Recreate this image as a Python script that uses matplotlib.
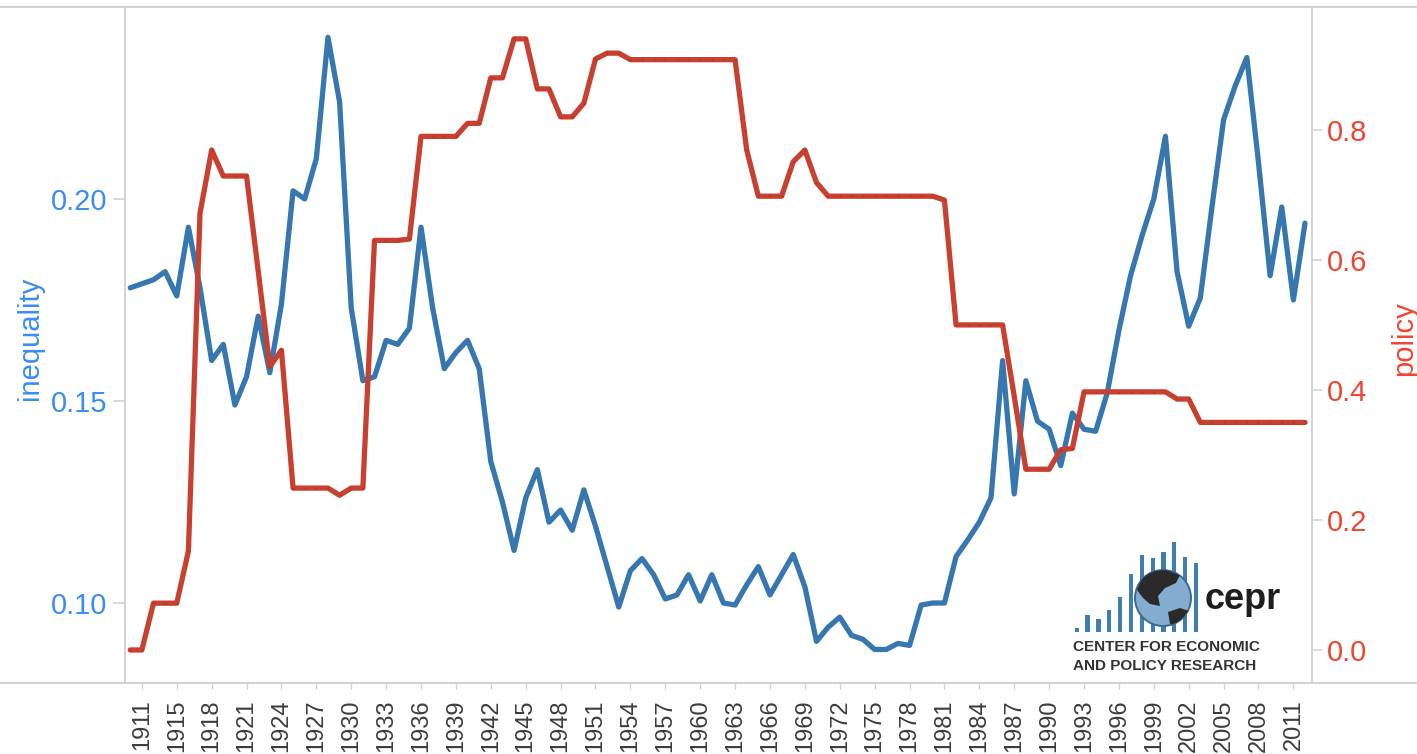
import numpy as np
import matplotlib.pyplot as plt
from matplotlib.lines import Line2D
from matplotlib.patches import Circle, Polygon

plt.rcParams['font.family'] = ['Liberation Sans', 'DejaVu Sans']

# categories (1912 is not in the series)
years = [1910, 1911] + list(range(1913, 2013))

inequality = [
    0.178, 0.179, 0.180, 0.182, 0.176, 0.193, 0.178, 0.160, 0.164, 0.149,
    0.156, 0.171, 0.157, 0.174, 0.202, 0.200, 0.210, 0.240, 0.224, 0.173,
    0.155, 0.156, 0.165, 0.164, 0.168, 0.193, 0.173, 0.158, 0.162, 0.165,
    0.158, 0.135, 0.125, 0.113, 0.126, 0.133, 0.120, 0.123, 0.118, 0.128,
    0.119, 0.109, 0.099, 0.108, 0.111, 0.107, 0.101, 0.102, 0.107, 0.1005,
    0.107, 0.100, 0.0995, 0.1045, 0.109, 0.102, 0.107, 0.112, 0.104, 0.0905,
    0.094, 0.0965, 0.092, 0.091, 0.0885, 0.0885, 0.090, 0.0895, 0.0995, 0.100,
    0.100, 0.1115, 0.1156, 0.120, 0.126, 0.160, 0.127, 0.155, 0.145, 0.143,
    0.134, 0.147, 0.143, 0.1425, 0.152, 0.1675, 0.181, 0.191, 0.200, 0.2155,
    0.182, 0.1685, 0.1755, 0.198, 0.2196, 0.228, 0.235, 0.209, 0.181, 0.198,
    0.175, 0.194,
]

policy = [
    0.0, 0.0, 0.072, 0.072, 0.072, 0.152, 0.672, 0.769, 0.729, 0.729,
    0.729, 0.583, 0.436, 0.461, 0.249, 0.249, 0.249, 0.249, 0.238, 0.249,
    0.249, 0.630, 0.630, 0.630, 0.632, 0.790, 0.790, 0.790, 0.790, 0.810,
    0.810, 0.880, 0.880, 0.940, 0.940, 0.863, 0.863, 0.820, 0.820, 0.841,
    0.909, 0.918, 0.918, 0.908, 0.908, 0.908, 0.908, 0.908, 0.908, 0.908,
    0.908, 0.908, 0.908, 0.769, 0.698, 0.698, 0.698, 0.751, 0.769, 0.719,
    0.698, 0.698, 0.698, 0.698, 0.698, 0.698, 0.698, 0.698, 0.698, 0.698,
    0.692, 0.500, 0.500, 0.500, 0.500, 0.500, 0.390, 0.278, 0.278, 0.278,
    0.308, 0.310, 0.397, 0.397, 0.397, 0.397, 0.397, 0.397, 0.397, 0.397,
    0.386, 0.386, 0.350, 0.350, 0.350, 0.350, 0.350, 0.350, 0.350, 0.350,
    0.350, 0.350,
]

left_ticks = [0.10, 0.15, 0.20]
right_ticks = [0.0, 0.2, 0.4, 0.6, 0.8]

# logo bar heights (decoration)
logo_bars = [3.4, 16.7, 12.4, 21.7, 35, 57.7, 76.7, 73.4, 80, 89.4, 75, 68.4]

W, H = 1417, 754
BLUE = '#3777b0'
RED = '#c8402f'
GRID = '#d2d2d2'

fig = plt.figure(figsize=(W / 100, H / 100), dpi=100)
ax = fig.add_axes([125 / W, 1 - 683 / H, (1312 - 125) / W, (683 - 7) / H])
ax2 = ax.twinx()

x = np.arange(len(years))
ax.plot(x, inequality, color=BLUE, lw=3.8, solid_joinstyle='round',
        solid_capstyle='round', zorder=3)
ax2.plot(x, policy, color=RED, lw=3.8, solid_joinstyle='round',
         solid_capstyle='round', marker='o', markersize=1.6,
         markerfacecolor='#b3372a', markeredgewidth=0, zorder=3)

ax.set_xlim(-0.45, 101.6)
ax.set_ylim(0.0802, 0.2475)
ax2.set_ylim(-0.0508, 0.989)

ax.set_xticks(x[1::3])
ax.set_xticklabels([str(y) for y in years[1::3]])
ax.set_yticks(left_ticks)
ax.set_yticklabels([f'{v:.2f}' for v in left_ticks])
ax2.set_yticks(right_ticks)
ax2.set_yticklabels([f'{v:.1f}' for v in right_ticks])

ax.tick_params(axis='x', length=4, width=1, color=GRID, labelcolor='#3c3c3c',
               labelsize=17, labelrotation=90, pad=8)
ax.tick_params(axis='y', length=9, width=1.2, color=GRID, labelcolor='#3a8df2',
               labelsize=21, pad=4)
ax2.tick_params(axis='y', length=7, width=1.2, color=GRID, labelcolor='#ee4530',
                labelsize=21, pad=4)

ax.set_ylabel('inequality', color='#3a8df2', fontsize=21)
ax.yaxis.set_label_coords(-0.068, 0.51)
ax2.set_ylabel('policy', color='#ee4530', fontsize=21)
ax2.yaxis.set_label_coords(1.066, 0.51)

for a in (ax, ax2):
    a.spines['top'].set_visible(False)
    a.spines['bottom'].set_visible(False)
    a.spines['left'].set_color(GRID)
    a.spines['right'].set_color(GRID)
    a.spines['left'].set_linewidth(1.3)
    a.spines['right'].set_linewidth(1.3)
ax.set_zorder(ax2.get_zorder() - 1)
ax2.patch.set_visible(False)

# full-width border lines, top and bottom
for yy in (1 - 6.5 / H, 1 - 683 / H):
    fig.add_artist(Line2D([0, 1], [yy, yy], transform=fig.transFigure,
                          color=GRID, lw=1.5))

# CEPR logo
lg = fig.add_axes([1060 / W, 1 - 680 / H, 240 / W, 180 / H])
lg.set_xlim(1060, 1300)
lg.set_ylim(680, 500)
lg.axis('off')
bar_x = 1076.7 + 10.85 * np.arange(len(logo_bars))
lg.bar(bar_x, [-h for h in logo_bars], bottom=631.7, width=4.2,
       color='#3e7fb0', linewidth=0)
globe = Circle((1163, 598), 28, facecolor='#84acd0', edgecolor='#3b6a92', lw=1.4,
               zorder=3)
lg.add_patch(globe)
north = Polygon([(1137, 590), (1142, 578), (1152, 571), (1166, 570), (1180, 575),
                 (1176, 583), (1165, 588), (1158, 596), (1160, 606), (1150, 604),
                 (1143, 598)], closed=True, facecolor='#2a2a2a', lw=0, zorder=4)
south = Polygon([(1168, 612), (1180, 608), (1189, 611), (1187, 620), (1178, 626),
                 (1170, 624)], closed=True, facecolor='#2a2a2a', lw=0, zorder=4)
for p in (north, south):
    p.set_clip_path(globe)
    lg.add_patch(p)
lg.text(1205, 600, 'cepr', fontsize=26, fontweight='bold', color='#1e1e1e',
        ha='left', va='center')
lg.text(1073, 647, 'CENTER FOR ECONOMIC', fontsize=11, fontweight='bold',
        color='#333333', ha='left', va='center')
lg.text(1073, 666, 'AND POLICY RESEARCH', fontsize=11, fontweight='bold',
        color='#333333', ha='left', va='center')

fig.savefig('out.png', dpi=100)
